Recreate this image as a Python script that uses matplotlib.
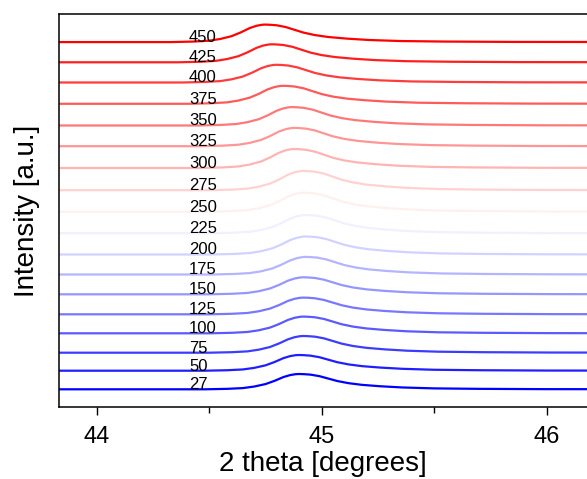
import numpy as np
import matplotlib
matplotlib.use("Agg")
import matplotlib.pyplot as plt
from matplotlib.ticker import MultipleLocator

plt.rcParams['font.family'] = ['Liberation Sans', 'DejaVu Sans']

# -------------------------
# Data
# -------------------------

temps = [27, 50, 75, 100, 125, 150, 175, 200, 225,
         250, 275, 300, 325, 350, 375, 400, 425, 450]

# vertical offset of each trace (a.u.)
offsets = [17.7, 36.3, 54.3, 73.7, 92.7, 112.7, 132.5, 152.5, 173.7,
           195.3, 216.8, 239.0, 260.8, 281.5, 303.2, 324.5, 344.7, 364.9]

# peak position (degrees) and peak height (a.u.)
centers = [44.90, 44.90, 44.92, 44.92, 44.92, 44.92, 44.93, 44.93, 44.93,
           44.92, 44.92, 44.88, 44.88, 44.87, 44.83, 44.80, 44.78, 44.75]
heights = [15.3, 15.7, 16.7, 16.7, 16.7, 17.0, 17.6, 18.0, 18.3,
           19.0, 19.3, 19.0, 18.3, 18.4, 18.0, 17.7, 18.0, 17.5]

# shared peak shape (offset from peak, relative intensity)
prof_dx = [-2.0, -0.42, -0.32, -0.25, -0.20, -0.15, -0.11, -0.07, -0.04, -0.015,
           0.0, 0.02, 0.05, 0.09, 0.13, 0.17, 0.22, 0.28, 0.36, 0.46,
           0.60, 0.80, 1.10, 2.0]
prof_y = [0.0, 0.0, 0.03, 0.08, 0.18, 0.34, 0.55, 0.80, 0.93, 0.99,
          1.0, 0.99, 0.96, 0.86, 0.70, 0.54, 0.40, 0.29, 0.20, 0.12,
          0.06, 0.03, 0.01, 0.0]

# -------------------------
# Plot
# -------------------------

fig = plt.figure(figsize=(5.87, 4.79), dpi=100)
ax = fig.add_axes([0.1005, 0.1503, 0.8995, 0.8205])

colors = plt.cm.bwr(np.linspace(0, 1, len(temps)))
dx = np.array(prof_dx)
py = np.array(prof_y)

for t, off, c, h, col in zip(temps, offsets, centers, heights, colors):
    ax.plot(c + dx, off + h * py, color=col, linewidth=1.6)
    ax.text(44.41, off, str(t), fontsize=12, ha='left', va='baseline')

ax.set_xlim(43.832, 46.18)
ax.set_ylim(0, 393)

ax.xaxis.set_major_locator(MultipleLocator(1))
ax.xaxis.set_minor_locator(MultipleLocator(0.5))
ax.tick_params(axis='x', which='major', length=6, width=1, labelsize=17, pad=8)
ax.tick_params(axis='x', which='minor', length=4, width=1)
ax.set_yticks([])

ax.spines['right'].set_visible(False)
for s in ['left', 'top', 'bottom']:
    ax.spines[s].set_linewidth(1.1)

ax.set_xlabel('2 theta [degrees]', fontsize=20, labelpad=2)
ax.set_ylabel('Intensity [a.u.]', fontsize=20, labelpad=14)

fig.savefig('out.png', dpi=100)
